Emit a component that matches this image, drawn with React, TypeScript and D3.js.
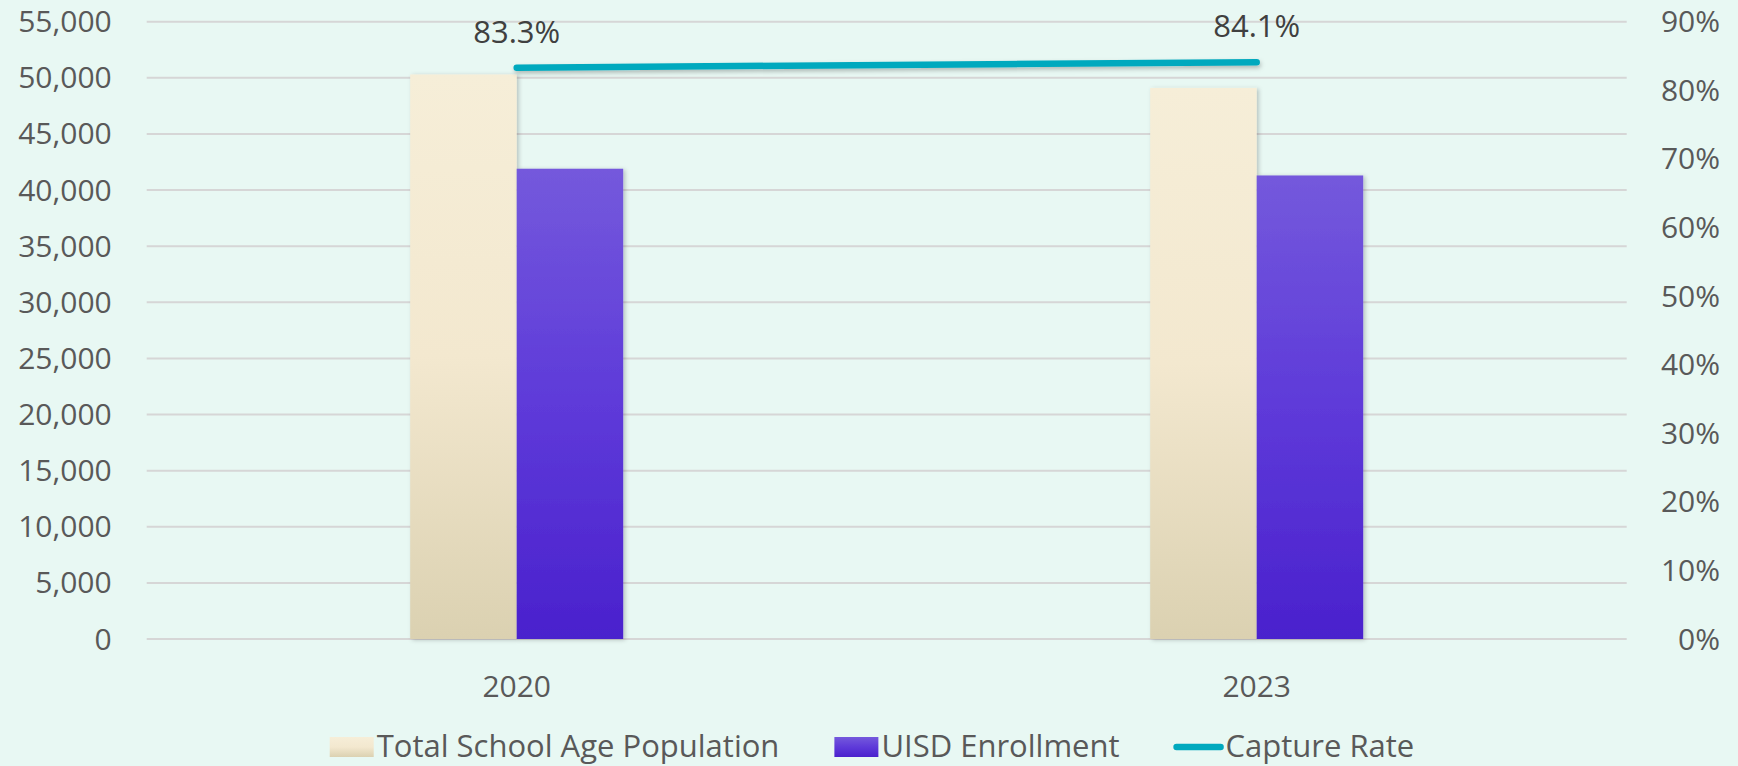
import React from "react";
import * as d3 from "d3";

const categories = ["2020", "2023"];
const populationValues = [50300, 49100];
const enrollmentValues = [41900, 41300];
const captureRates = [0.833, 0.841];
const leftTicks = [0, 5000, 10000, 15000, 20000, 25000, 30000, 35000, 40000, 45000, 50000, 55000];
const rightTicks = [0, 0.1, 0.2, 0.3, 0.4, 0.5, 0.6, 0.7, 0.8, 0.9];
const seriesNames = ["Total School Age Population", "UISD Enrollment", "Capture Rate"];

const W = 1738;
const H = 766;
const FONT = "'Open Sans', 'Noto Sans', sans-serif";
const BG = "#e8f8f3";

function measure(text: string, size: number) {
  if (typeof document === "undefined") return text.length * size * 0.5;
  const c = document.createElement("canvas").getContext("2d");
  if (!c) return text.length * size * 0.5;
  c.font = `${size}px 'Open Sans'`;
  return c.measureText(text).width;
}

export default function App() {
  const plotLeft = 146.7;
  const plotRight = 1626.7;
  const plotTop = 21.7;
  const plotBottom = 639;

  const x = d3.scaleBand<string>().domain(categories).range([plotLeft, plotRight]);
  const groupW = 213;
  const xs = d3.scaleBand<string>().domain(["pop", "enr"]).range([-groupW / 2, groupW / 2]);
  const yL = d3.scaleLinear().domain([0, 55000]).range([plotBottom, plotTop]);
  const yR = d3.scaleLinear().domain([0, 0.9]).range([plotBottom, plotTop]);
  const fmtL = d3.format(",");
  const fmtR = d3.format(".0%");
  const fmtLabel = d3.format(".1%");
  const cx = (c: string) => (x(c) as number) + x.bandwidth() / 2;

  const line = d3
    .line<number>()
    .x((_, i) => cx(categories[i]))
    .y((d) => yR(d));

  // legend layout
  const legSize = 31;
  const swW = 44;
  const swGap = 3;
  const itemGap = 55;
  const widths = seriesNames.map((s) => swW + swGap + measure(s, legSize));
  const total = widths.reduce((a, b) => a + b, 0) + itemGap * (seriesNames.length - 1);
  let lx = 870 - total / 2;
  const legendX: number[] = [];
  widths.forEach((w) => {
    legendX.push(lx);
    lx += w + itemGap;
  });
  const legBase = 757;

  return (
    <div style={{ position: "fixed", left: 0, top: 0, width: W, height: H }}>
      <svg width={W} height={H} style={{ display: "block" }} fontFamily={FONT}>
        <defs>
          <linearGradient id="gPop" x1="0" y1="0" x2="0" y2="1">
            <stop offset="0" stopColor="#f6eed8" />
            <stop offset="0.5" stopColor="#f3e8cf" />
            <stop offset="1" stopColor="#dbd1b1" />
          </linearGradient>
          <linearGradient id="gEnr" x1="0" y1="0" x2="0" y2="1">
            <stop offset="0" stopColor="#7459dc" />
            <stop offset="0.5" stopColor="#5e3ad9" />
            <stop offset="1" stopColor="#4a21cd" />
          </linearGradient>
          <filter id="shadow" x="-20%" y="-20%" width="140%" height="140%">
            <feDropShadow dx="2" dy="1" stdDeviation="2" floodColor="#000" floodOpacity="0.22" />
          </filter>
          <filter id="lshadow" x="-5%" y="-200%" width="110%" height="500%">
            <feDropShadow dx="1" dy="2.5" stdDeviation="2" floodColor="#000" floodOpacity="0.25" />
          </filter>
        </defs>
        <rect width={W} height={H} fill={BG} />

        {leftTicks.map((t) => (
          <line key={t} x1={plotLeft} x2={plotRight} y1={yL(t)} y2={yL(t)} stroke="#d6d6d6" strokeWidth={2} />
        ))}

        {leftTicks.map((t) => (
          <text key={"l" + t} x={111.7} y={yL(t)} dy="0.35em" textAnchor="end" fontSize={30} fill="#595959">
            {fmtL(t)}
          </text>
        ))}
        {rightTicks.map((t) => (
          <text key={"r" + t} x={1720} y={yR(t)} dy="0.35em" textAnchor="end" fontSize={30} fill="#595959">
            {fmtR(t)}
          </text>
        ))}

        {categories.map((c, i) => (
          <g key={c} transform={`translate(${cx(c)},0)`}>
            <rect
              x={xs("pop")}
              y={yL(populationValues[i])}
              width={xs.bandwidth()}
              height={plotBottom - yL(populationValues[i])}
              fill="url(#gPop)"
              filter="url(#shadow)"
            />
            <rect
              x={xs("enr")}
              y={yL(enrollmentValues[i])}
              width={xs.bandwidth()}
              height={plotBottom - yL(enrollmentValues[i])}
              fill="url(#gEnr)"
              filter="url(#shadow)"
            />
          </g>
        ))}

        {categories.map((c) => (
          <text key={"x" + c} x={cx(c)} y={697} textAnchor="middle" fontSize={30} fill="#595959">
            {c}
          </text>
        ))}

        <path
          d={line(captureRates) || ""}
          fill="none"
          stroke="#00a9be"
          strokeWidth={6.5}
          strokeLinecap="round"
          filter="url(#lshadow)"
        />
        {captureRates.map((r, i) => (
          <text
            key={"d" + i}
            x={cx(categories[i])}
            y={yR(r) - 25}
            textAnchor="middle"
            fontSize={31}
            fill="#404040"
          >
            {fmtLabel(r)}
          </text>
        ))}

        {/* legend */}
        <rect x={legendX[0]} y={legBase - 20} width={swW} height={20} fill="url(#gPop)" />
        <text x={legendX[0] + swW + swGap} y={legBase} fontSize={legSize} fill="#595959">
          {seriesNames[0]}
        </text>
        <rect x={legendX[1]} y={legBase - 20} width={swW} height={20} fill="url(#gEnr)" />
        <text x={legendX[1] + swW + swGap} y={legBase} fontSize={legSize} fill="#595959">
          {seriesNames[1]}
        </text>
        <line
          x1={legendX[2] + 2}
          x2={legendX[2] + swW + 2}
          y1={legBase - 10}
          y2={legBase - 10}
          stroke="#00a9be"
          strokeWidth={6.5}
          strokeLinecap="round"
        />
        <text x={legendX[2] + swW + swGap + 4} y={legBase} fontSize={legSize} fill="#595959">
          {seriesNames[2]}
        </text>
      </svg>
    </div>
  );
}
